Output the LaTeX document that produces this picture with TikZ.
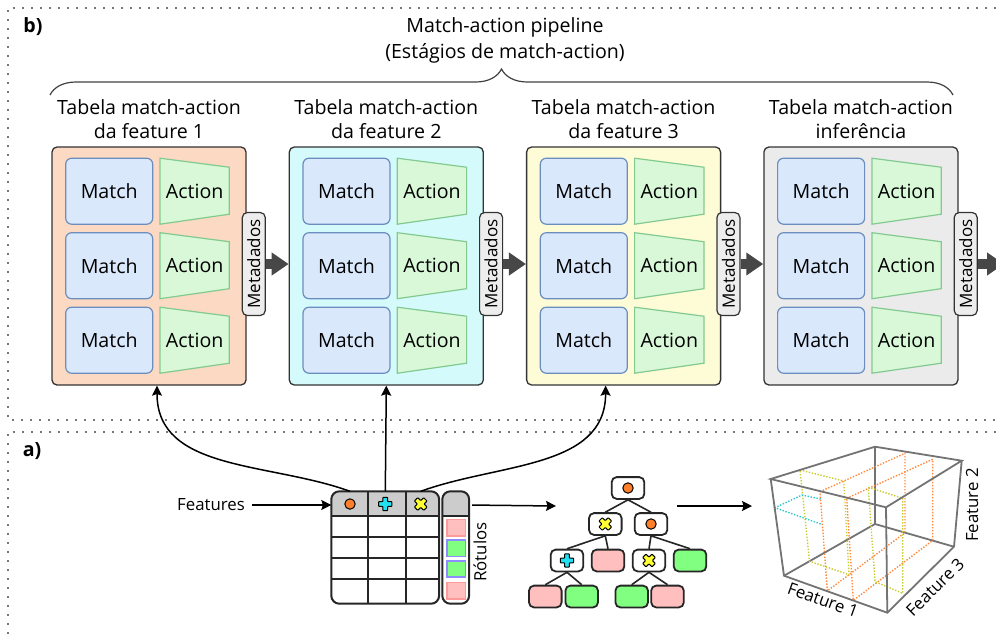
\documentclass[tikz,border=0pt]{standalone}
\usepackage{fontspec}
\setmainfont{Open Sans}
\usetikzlibrary{arrows.meta, positioning, decorations.pathreplacing, calc}
\definecolor{stA}{HTML}{FBD9C2}
\definecolor{stB}{HTML}{D5FAFC}
\definecolor{stC}{HTML}{FEFCD7}
\definecolor{stD}{HTML}{EBEBEB}
\definecolor{matchfill}{HTML}{DAE8FC}
\definecolor{matchline}{HTML}{6C8EBF}
\definecolor{actfill}{HTML}{D8F8D8}
\definecolor{actline}{HTML}{82CA8F}
\definecolor{fone}{HTML}{FF7F2A}
\definecolor{ftwo}{HTML}{22E0F0}
\definecolor{fthree}{HTML}{FFFF33}
\definecolor{good}{HTML}{80FF80}
\definecolor{bad}{HTML}{FFBFBF}
\definecolor{badline}{HTML}{FF9A9A}
\definecolor{goodline}{HTML}{8C8CFF}
\definecolor{framegray}{HTML}{777777}
\definecolor{cutorange}{HTML}{FF8A3D}
\definecolor{cutyellow}{HTML}{C8CC30}
\definecolor{cutcyan}{HTML}{30C8CC}
\newcommand{\mainsize}{\fontsize{9.8}{12}\selectfont}
\newcommand{\smallsize}{\fontsize{8.4}{10}\selectfont}
\tikzset{
  stagebox/.style={rectangle, rounded corners=2.5pt, draw=black!80, line width=0.65pt, minimum width=97pt, minimum height=119pt},
  matchbox/.style={rectangle, rounded corners=3pt, draw=matchline, line width=0.6pt, fill=matchfill, minimum width=43.5pt, minimum height=33pt, font=\mainsize},
  actbox/.style={draw=actline, line width=0.6pt, fill=actfill},
  acttext/.style={font=\mainsize, inner sep=0pt},
  metatag/.style={rectangle, rounded corners=2.5pt, draw=black!80, line width=0.6pt, fill=black!7, minimum width=51.5pt, minimum height=11.5pt, inner sep=1pt, font=\fontsize{8.5}{10}\selectfont, rotate=90},
  pipe/.style={line width=5pt, draw=black!72, -{Triangle[length=8.5pt, width=11pt]}},
  ttl/.style={align=center, font=\mainsize},
  arr/.style={line width=0.75pt, -{Stealth[length=5pt, width=5pt, inset=0.8pt]}},
  zoneframe/.style={draw=framegray, line width=1pt, dash pattern=on 1pt off 3.5pt},
  tabline/.style={line width=1pt, black!85},
  splitnode/.style={rectangle, rounded corners=2.5pt, draw=black!85, line width=0.9pt, fill=white, minimum width=16.3pt, minimum height=10.9pt, inner sep=0pt},
  leafbad/.style={splitnode, fill=bad},
  leafgood/.style={splitnode, fill=good},
  lblbad/.style={rectangle, draw=badline, line width=0.8pt, fill=bad, minimum width=9.3pt, minimum height=8.2pt, inner sep=0pt},
  lblgood/.style={rectangle, draw=goodline, line width=0.8pt, fill=good, minimum width=9.3pt, minimum height=8.2pt, inner sep=0pt},
  treeline/.style={line width=0.8pt, black!85},
  cubeline/.style={line width=0.9pt, black!55},
  cut/.style={line width=0.7pt, dash pattern=on 0.7pt off 0.8pt},
  dotico/.pic={\draw[fill=fone, line width=0.5pt] (0,0) circle (2.6pt);},
  plusico/.pic={\draw[fill=ftwo, line width=0.5pt, rounded corners=0.3pt] (-1.2pt,-3.3pt) -- (1.2pt,-3.3pt) -- (1.2pt,-1.2pt) -- (3.3pt,-1.2pt) -- (3.3pt,1.2pt) -- (1.2pt,1.2pt) -- (1.2pt,3.3pt) -- (-1.2pt,3.3pt) -- (-1.2pt,1.2pt) -- (-3.3pt,1.2pt) -- (-3.3pt,-1.2pt) -- (-1.2pt,-1.2pt) -- cycle;},
  crossico/.pic={\draw[fill=fthree, line width=0.5pt, rounded corners=0.3pt, rotate=45] (-1.2pt,-3.3pt) -- (1.2pt,-3.3pt) -- (1.2pt,-1.2pt) -- (3.3pt,-1.2pt) -- (3.3pt,1.2pt) -- (1.2pt,1.2pt) -- (1.2pt,3.3pt) -- (-1.2pt,3.3pt) -- (-1.2pt,1.2pt) -- (-3.3pt,1.2pt) -- (-3.3pt,-1.2pt) -- (-1.2pt,-1.2pt) -- cycle;},
}

\begin{document}
\begin{tikzpicture}[x=0.5pt, y=-0.5pt]
\clip (0,0) rectangle (996,639);
% dotted zones
\draw[zoneframe] (996,8) -- (8,8) -- (8,420) -- (996,420);
\draw[zoneframe] (996,432) -- (8,432) -- (8,639);
\node[font=\mainsize\bfseries] (lb) at (33,27) {b)};
\node[font=\mainsize\bfseries] (la) at (32,451) {a)};

% pipeline title
\node[align=center, font=\fontsize{9.8}{13}\selectfont] (pipe) at (505,40) {Match-action pipeline\\(Estágios de match-action)};
\draw[decorate, decoration={brace, amplitude=13pt}, line width=0.6pt, black!75] (50,95) -- (953,95);

% stages
\foreach \i/\fc/\ttltext in {0/stA/da feature 1, 1/stB/da feature 2, 2/stC/da feature 3, 3/stD/inferência} {
  \node[stagebox, fill=\fc] (s\i) at (149+237.3*\i, 266) {};
  \node[ttl] (t\i) at (149+237.3*\i, 119) {Tabela match-action\\\ttltext};
  \foreach \r in {0,1,2} {
    \node[matchbox] (m\i\r) at (109.2+237.3*\i, 191.2+74.5*\r) {Match};
    \path[actbox] (160+237.3*\i, 158.2+74.5*\r) -- ++(69.3,9) -- ++(0,47) -- ++(-69.3,10) -- cycle;
    \node[acttext] (a\i\r) at (194.7+237.3*\i, 191.2+74.5*\r) {Action};
  }
  \node[metatag] (md\i) at (253.8+237.3*\i, 264) {Metadados};
}
\foreach \i/\j in {0/1, 1/2, 2/3}
  \draw[pipe] (md\i.south) -- (s\j.west |- md\i.south);
\coordinate (pipeend) at (1004,264);
\draw[pipe] (md3.south) -- (pipeend);

% dataset table
\node[font=\smallsize] (feat) at (211,505) {Features};
\node[minimum width=53.5pt, minimum height=55.8pt, inner sep=0pt] (tab) at (385.2,547.5) {};
\fill[black!20] (331.7,516) [rounded corners=4pt] -- (331.7,491.7) -- (438.7,491.7) [sharp corners] -- (438.7,516) -- cycle;
\foreach \yy in {516, 537.3, 558.3, 579}
  \draw[tabline] (331.7,\yy) -- (438.7,\yy);
\foreach \xx in {368.3, 406}
  \draw[tabline] (\xx,491.7) -- (\xx,603.3);
\draw[tabline, rounded corners=4pt] (tab.north west) rectangle (tab.south east);
\node (h1) at (350,504) {};
\node (h2) at (385.3,504) {};
\node (h3) at (420.7,504) {};
\pic at (h1) {dotico};
\pic at (h2) {plusico};
\pic at (h3) {crossico};

% labels column
\node[minimum width=13pt, minimum height=55.8pt, inner sep=0pt] (lab) at (455.7,547.5) {};
\fill[black!20] (442.7,516) [rounded corners=4pt] -- (442.7,491.7) -- (468.7,491.7) [sharp corners] -- (468.7,516) -- cycle;
\draw[tabline] (442.7,516) -- (468.7,516);
\draw[tabline, rounded corners=4pt] (lab.north west) rectangle (lab.south east);
\node[lblbad] (r1) at (456,527.5) {};
\node[lblgood] (r2) at (456,548.3) {};
\node[lblgood] (r3) at (456,569) {};
\node[lblbad] (r4) at (456,590.5) {};
\node[font=\smallsize, rotate=90] (rot) at (480,552) {Rótulos};

\draw[arr] (feat.east) -- (tab.west |- feat);
\draw[arr] (h1 |- tab.north) to[out=160, in=-90] ([xshift=4pt]s0.south);
\draw[arr] (h2 |- tab.north) -- (s1.south);
\draw[arr] (h3 |- tab.north) to[out=20, in=-90] ([xshift=-9pt]s2.south);

% decision tree
\coordinate (treein) at (556,506);
\draw[arr, shorten <=1.5pt] (lab.east |- feat) -- (treein);
\node[splitnode] (root) at (628,488) {};
\node[splitnode] (n1) at (605.3,524) {};
\node[splitnode] (n2) at (651,524) {};
\node[splitnode] (n3) at (567,560.5) {};
\node[leafbad] (l1) at (608,560.5) {};
\node[splitnode] (n4) at (649,560.5) {};
\node[leafgood] (l2) at (690,560.5) {};
\node[leafbad] (l3) at (545.3,596.5) {};
\node[leafgood] (l4) at (581.7,596.5) {};
\node[leafgood] (l5) at (631.7,596.5) {};
\node[leafbad] (l6) at (667.5,596.5) {};
\foreach \p/\c in {root/n1, root/n2, n1/n3, n1/l1, n2/n4, n2/l2, n3/l3, n3/l4, n4/l5, n4/l6}
  \draw[treeline] (\p.south) -- (\c.north);
\pic at (root) {dotico};
\pic at (n1) {crossico};
\pic at (n2) {dotico};
\pic at (n3) {plusico};
\pic at (n4) {crossico};

% feature space
\coordinate (treeout) at (677,506);
\coordinate (cubein) at (752,506);
\draw[arr] (treeout) -- (cubein);
\coordinate (A) at (770.7,479);
\coordinate (B) at (875,446.7);
\coordinate (C) at (961.7,460.7);
\coordinate (D) at (886,507.3);
\coordinate (E) at (784,575.7);
\coordinate (F) at (887.3,612.7);
\coordinate (G) at (954,546.7);
\coordinate (H) at (875,524);
\draw[cubeline] (B) -- (H) (E) -- (H) -- (G);
\draw[cut, cutorange] (820,491.7) -- (905,453.3) -- (905,532.7) -- (827.3,591) -- cycle;
\draw[cut, cutorange] (846.7,498.3) -- (932.7,459.3) -- (932.7,540.5) -- (853.3,600.3) -- cycle;
\draw[cut, cutyellow] (800,470) -- (843.8,481) -- (849,574.7) -- (809.5,561.2) -- cycle;
\draw[cut, cutyellow] (868.3,487.3) -- (902.7,498.3) -- (902.7,593.3) -- (875,581.7) -- cycle;
\draw[cut, cutcyan] (820.7,499) -- (802,495) -- (775,507.7) -- (821.7,524.3);
\draw[cubeline] (A) -- (B) -- (C) -- (D) -- cycle (A) -- (E) -- (F) -- (G) -- (C) (D) -- (F);
\node[font=\smallsize, rotate=-19.7] (fx) at (823,600) {Feature 1};
\node[font=\smallsize, rotate=44.6] (fz) at (935,587) {Feature 3};
\node[font=\smallsize, rotate=90] (fy) at (972,505) {Feature 2};
\end{tikzpicture}
\end{document}
